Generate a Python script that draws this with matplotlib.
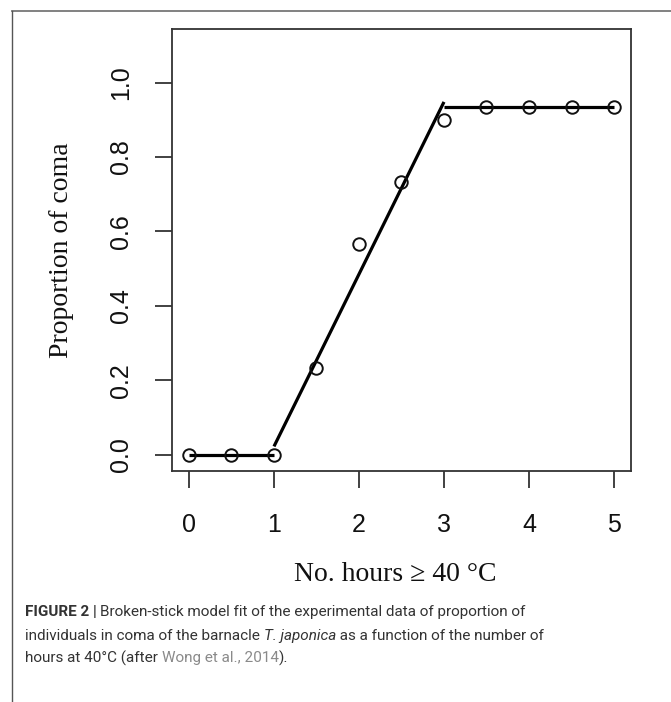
import matplotlib
matplotlib.use('Agg')
import matplotlib.pyplot as plt
from matplotlib.lines import Line2D

plt.rcParams['font.family'] = ['Liberation Sans', 'DejaVu Sans']

# observed proportions in coma
hours = [0, 0.5, 1, 1.5, 2, 2.5, 3, 3.5, 4, 4.5, 5]
prop_coma = [0, 0, 0, 0.233, 0.567, 0.733, 0.9, 0.933, 0.933, 0.933, 0.933]

# broken-stick fit segments
fit_x1, fit_y1 = [0, 1], [0, 0]
fit_x2, fit_y2 = [1, 3], [0.022, 0.948]
fit_x3, fit_y3 = [3, 5], [0.933, 0.933]

xticks = [0, 1, 2, 3, 4, 5]
yticks = [0.0, 0.2, 0.4, 0.6, 0.8, 1.0]
ytick_labels = ['0.0', '0.2', '0.4', '0.6', '0.8', '1.0']

fig = plt.figure(figsize=(6.71, 7.02), dpi=100)
ax = fig.add_axes([0.2563, 0.3291, 0.6841, 0.6296])

for sx, sy in [(fit_x1, fit_y1), (fit_x2, fit_y2), (fit_x3, fit_y3)]:
    ax.plot(sx, sy, color='black', lw=2.3, solid_capstyle='butt', zorder=2)
ax.plot(hours, prop_coma, 'o', ms=9, mfc='none', mec='#111111', mew=1.4, zorder=3)

ax.set_xlim(-0.2, 5.2)
ax.set_ylim(-0.044, 1.144)
for s in ax.spines.values():
    s.set_color('#333333')
    s.set_linewidth(1.3)
ax.tick_params(length=12, width=1.3, color='#333333', labelsize=18, pad=18,
               labelcolor='#111111', labelfontfamily='Liberation Sans')
ax.tick_params(axis='y', pad=16)
ax.set_xticks(xticks)
ax.set_yticks(yticks)
ax.set_yticklabels(ytick_labels, rotation=90, va='center', family='Liberation Sans')

ax.set_xlabel('No. hours ≥ 40 °C', family='Liberation Serif', fontsize=20, color='#111111')
ax.xaxis.set_label_coords(0.487, -0.235)
ax.xaxis.label.set_va('center')
ax.set_ylabel('Proportion of coma', family='Liberation Serif', fontsize=20, color='#111111')
ax.yaxis.set_label_coords(-0.24, 0.5)
ax.yaxis.label.set_va('center')

# outer frame (top and left rules)
fig.add_artist(Line2D([12 / 671, 1], [1 - 11 / 702] * 2, color='#777777', lw=1.3))
fig.add_artist(Line2D([12 / 671] * 2, [0, 1 - 11 / 702], color='#555555', lw=1.0))

# caption with mixed styles
cap_font = ['Liberation Sans Narrow', 'Roboto']
cap_size = 11.0
dark = '#333333'
lines = [
    [('FIGURE 2 | ', 'bold', 'normal', dark),
     ('Broken-stick model fit of the experimental data of proportion of', 'normal', 'normal', dark)],
    [('individuals in coma of the barnacle ', 'normal', 'normal', dark),
     ('T. japonica', 'normal', 'italic', dark),
     (' as a function of the number of', 'normal', 'normal', dark)],
    [('hours at 40°C (after ', 'normal', 'normal', dark),
     ('Wong et al., 2014', 'normal', 'normal', '#8a8a8a'),
     (').', 'normal', 'normal', dark)],
]
line_y = [612, 636, 658]
renderer = fig.canvas.get_renderer()
for parts, ypix in zip(lines, line_y):
    x = 25
    for txt, wt, st, col in parts:
        t = fig.text(x / 671, 1 - ypix / 702, txt, family=cap_font, fontsize=cap_size,
                     weight=wt, style=st, color=col, va='center', ha='left')
        x += t.get_window_extent(renderer).width

fig.savefig('out.png', dpi=100)
